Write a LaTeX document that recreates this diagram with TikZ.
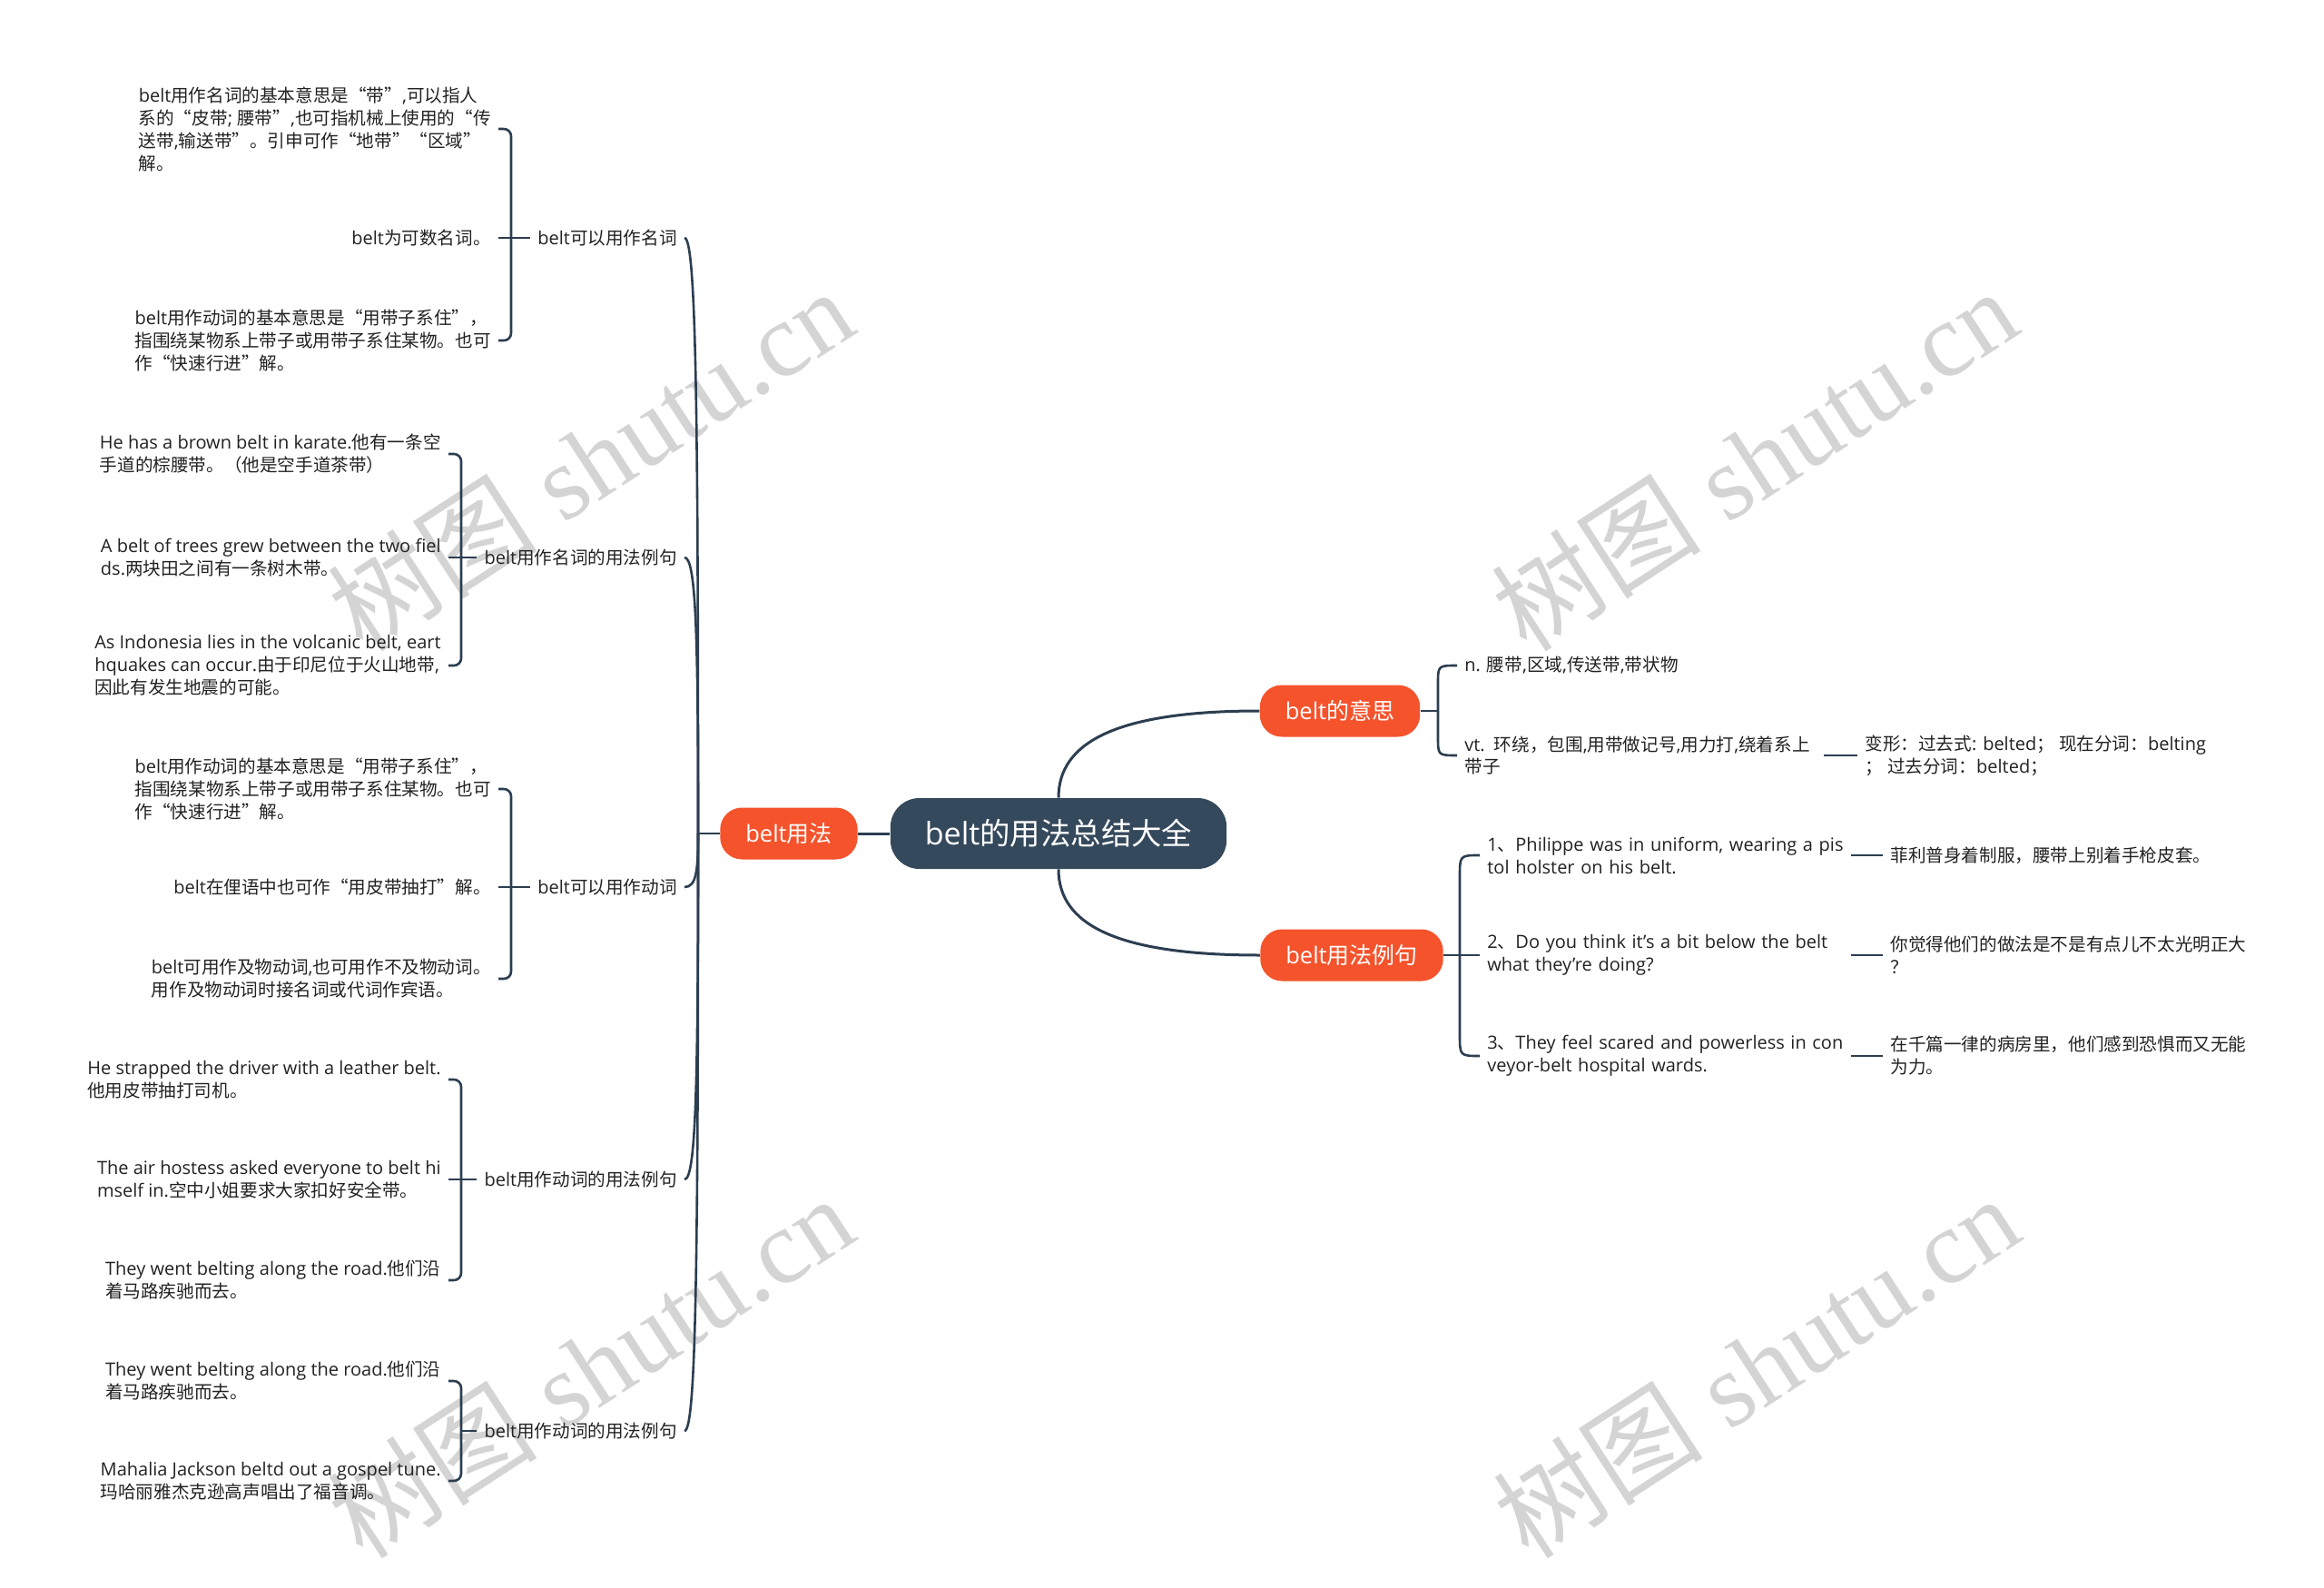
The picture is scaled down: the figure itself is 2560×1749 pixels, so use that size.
\documentclass[tikz,border=0pt]{standalone}
\usepackage{fontspec}
\setmainfont[Scale=1.02]{Open Sans}
\newfontfamily\cjkfont{Noto Sans CJK SC}
\newfontfamily\wmfont{Liberation Serif}
\usetikzlibrary{calc}
\XeTeXinterchartokenstate=1
\chardef\CJKcls=11
\newcount\cjkc
\def\setcjkrange#1#2{\cjkc=#1\relax
  \loop\XeTeXcharclass\cjkc=\CJKcls\relax
  \ifnum\cjkc<#2\relax\advance\cjkc by 1\relax\repeat}
\setcjkrange{"4E00}{"9FFF}
\setcjkrange{"3000}{"303F}
\setcjkrange{"FF00}{"FFEF}
\XeTeXcharclass"201C=\CJKcls
\XeTeXcharclass"201D=\CJKcls
\XeTeXinterchartoks 0 \CJKcls = {\cjkfont}
\XeTeXinterchartoks 4095 \CJKcls = {\cjkfont}
\XeTeXinterchartoks \CJKcls 0 = {\rmfamily}
\XeTeXinterchartoks \CJKcls 4095 = {\rmfamily}

\definecolor{lineC}{HTML}{2C3E50}
\definecolor{rootC}{HTML}{35495C}
\definecolor{orangeC}{HTML}{F5532C}
\definecolor{txtC}{HTML}{222222}
\definecolor{wmC}{HTML}{D4D4D4}
\newcommand\ml[1]{\mbox{#1}}

\tikzset{
  conn/.style={draw=lineC, line width=1.3pt},
  rootconn/.style={draw=lineC, line width=1.5pt},
  rootnode/.style={fill=rootC, text=white, rounded corners=16pt, minimum height=39pt,
    inner xsep=19pt, font=\fontsize{16.7}{20}\selectfont},
  topicnode/.style={fill=orangeC, text=white, rounded corners=12pt, minimum height=28.5pt,
    inner xsep=14pt, font=\fontsize{12.5}{15}\selectfont},
  leaf/.style={align=left, inner xsep=4pt, inner ysep=2pt, text=txtC,
    font=\fontsize{9.8}{12.5}\selectfont},
  sublabel/.style={leaf},
  wm/.style={text=wmC, font=\fontsize{58}{64}\selectfont, rotate=33},
}
\newcommand\trunkto[1]{\draw[conn] (J) .. controls ($(J)!0.7!(J|-#1.east)$) and ($(J|-#1.east)+(-2,0)$) .. (#1.east);}

\begin{document}
\begin{tikzpicture}[x=0.5pt,y=-0.5pt]
\path[use as bounding box, fill=white] (0,0) rectangle (2560,1749);

% watermarks
\node[wm] (wm1) at (650,506) {{\cjkfont 树图} {\wmfont shutu.cn}};
\node[wm] (wm2) at (1932,506) {{\cjkfont 树图} {\wmfont shutu.cn}};
\node[wm] (wm3) at (650,1505) {{\cjkfont 树图} {\wmfont shutu.cn}};
\node[wm] (wm4) at (1934,1505) {{\cjkfont 树图} {\wmfont shutu.cn}};

% main nodes
\node[rootnode] (root) at (1166,918) {belt的用法总结大全};
\node[topicnode] (yf) at (869,918) {belt用法};
\node[topicnode] (ys) at (1476,783) {belt的意思};
\node[topicnode] (yl) at (1489,1052) {belt用法例句};

\coordinate (J) at (769,918);
\coordinate (br1) at (563,262);
\coordinate (br2) at (508,614);
\coordinate (br3) at (563,977);
\coordinate (br4) at (508,1299);
\coordinate (br5) at (508,1576);
\coordinate (bm) at (1584,783);
\coordinate (bl) at (1608,1052);

% branch labels
\node[sublabel, anchor=east] (lab1) at (754,262) {belt可以用作名词};
\node[sublabel, anchor=east] (lab2) at (754,614) {belt用作名词的用法例句};
\node[sublabel, anchor=east] (lab3) at (754,977) {belt可以用作动词};
\node[sublabel, anchor=east] (lab4) at (754,1299) {belt用作动词的用法例句};
\node[sublabel, anchor=east] (lab5) at (754,1576) {belt用作动词的用法例句};

% group 1
\node[leaf, anchor=east] (g1a) at (549,142) {belt用作名词的基本意思是“带”,可以指人\\系的“皮带; 腰带”,也可指机械上使用的“传\\送带,输送带”。引申可作“地带”“区域”\\解。};
\node[leaf, anchor=east] (g1b) at (549,262) {belt为可数名词。};
\node[leaf, anchor=east] (g1c) at (549,375) {belt用作动词的基本意思是“用带子系住”，\\指围绕某物系上带子或用带子系住某物。也可\\作“快速行进”解。};

% group 2
\node[leaf, anchor=east] (g2a) at (494,500) {He has a brown belt in karate.他有一条空\\手道的棕腰带。（他是空手道茶带）};
\node[leaf, anchor=east] (g2b) at (494,614) {A belt of trees grew between the two fiel\\ds.两块田之间有一条树木带。};
\node[leaf, anchor=east] (g2c) at (494,733) {As Indonesia lies in the volcanic belt, eart\\hquakes can occur.由于印尼位于火山地带,\\因此有发生地震的可能。};

% group 3
\node[leaf, anchor=east] (g3a) at (549,869) {belt用作动词的基本意思是“用带子系住”，\\指围绕某物系上带子或用带子系住某物。也可\\作“快速行进”解。};
\node[leaf, anchor=east] (g3b) at (549,977) {belt在俚语中也可作“用皮带抽打”解。};
\node[leaf, anchor=east] (g3c) at (549,1078) {belt可用作及物动词,也可用作不及物动词。\\用作及物动词时接名词或代词作宾语。};

% group 4
\node[leaf, anchor=east] (g4a) at (494,1189) {He strapped the driver with a leather belt.\\他用皮带抽打司机。};
\node[leaf, anchor=east] (g4b) at (494,1299) {The air hostess asked everyone to belt hi\\mself in.空中小姐要求大家扣好安全带。};
\node[leaf, anchor=east] (g4c) at (494,1410) {They went belting along the road.他们沿\\着马路疾驰而去。};

% group 5
\node[leaf, anchor=east] (g5a) at (494,1521) {They went belting along the road.他们沿\\着马路疾驰而去。};
\node[leaf, anchor=east] (g5b) at (494,1631) {Mahalia Jackson beltd out a gospel tune.\\玛哈丽雅杰克逊高声唱出了福音调。};

% right: meaning
\node[leaf, anchor=west] (m1) at (1605,733) {n. 腰带,区域,传送带,带状物};
\node[leaf, anchor=west, text width=193.5pt] (m2) at (1605,832) {\ml{vt. 环绕，包围,用带做记号,用力打,绕着系上}\\\ml{带子}};
\node[leaf, anchor=west] (m3) at (2046,832) {变形：过去式: belted；  现在分词：belting\\；  过去分词：belted；};

% right: examples
\node[leaf, anchor=west, text width=196pt] (e1) at (1630,942) {\ml{1、Philippe was in uniform, wearing a pis}\\\ml{tol holster on his belt.}};
\node[leaf, anchor=west, text width=196pt] (e2) at (1630,1052) {\ml{2、Do you think it's a bit below the belt}\\\ml{what they're doing?}};
\node[leaf, anchor=west, text width=196pt] (e3) at (1630,1163) {\ml{3、They feel scared and powerless in con}\\\ml{veyor-belt hospital wards.}};
\node[leaf, anchor=west] (t1) at (2074,942) {菲利普身着制服，腰带上别着手枪皮套。};
\node[leaf, anchor=west] (t2) at (2074,1052) {你觉得他们的做法是不是有点儿不太光明正大\\？};
\node[leaf, anchor=west] (t3) at (2074,1163) {在千篇一律的病房里，他们感到恐惧而又无能\\为力。};

% root connectors
\draw[rootconn] (root.west) -- (yf.east);
\draw[rootconn] (root.north) .. controls +(0,-60) and +(-160,0) .. (ys.west);
\draw[rootconn] (root.south) .. controls +(0,60) and +(-160,0) .. (yl.west);

% left trunk
\draw[conn] (yf.west) -- (J);
\trunkto{lab1}
\trunkto{lab2}
\trunkto{lab3}
\trunkto{lab4}
\trunkto{lab5}

% left brackets
\draw[conn, rounded corners=4pt] (g1a.east) -- (g1a.east -| br1) -- (g1c.east -| br1) -- (g1c.east);
\draw[conn] (g1b.east) -- (lab1.west);
\draw[conn, rounded corners=4pt] (g2a.east) -- (g2a.east -| br2) -- (g2c.east -| br2) -- (g2c.east);
\draw[conn] (g2b.east) -- (lab2.west);
\draw[conn, rounded corners=4pt] (g3a.east) -- (g3a.east -| br3) -- (g3c.east -| br3) -- (g3c.east);
\draw[conn] (g3b.east) -- (lab3.west);
\draw[conn, rounded corners=4pt] (g4a.east) -- (g4a.east -| br4) -- (g4c.east -| br4) -- (g4c.east);
\draw[conn] (g4b.east) -- (lab4.west);
\draw[conn, rounded corners=4pt] (g5a.east) -- (g5a.east -| br5) -- (g5b.east -| br5) -- (g5b.east);
\draw[conn] (lab5.west) -- (br5);

% right brackets
\draw[conn] (ys.east) -- (bm);
\draw[conn] (m1.west) .. controls (bm |- m1.west) and (bm |- m1.west) .. ($(bm |- m1.west)+(0,20)$)
  -- ($(bm |- m2.west)+(0,-20)$) .. controls (bm |- m2.west) and (bm |- m2.west) .. (m2.west);
\draw[conn] (m2.east) -- (m3.west);

\draw[conn] (yl.east) -- (e2.west);
\draw[conn] (e1.west) .. controls (bl |- e1.west) and (bl |- e1.west) .. ($(bl |- e1.west)+(0,24)$)
  -- ($(bl |- e3.west)+(0,-24)$) .. controls (bl |- e3.west) and (bl |- e3.west) .. (e3.west);
\draw[conn] (e1.east) -- (t1.west);
\draw[conn] (e2.east) -- (t2.west);
\draw[conn] (e3.east) -- (t3.west);
\end{tikzpicture}
\end{document}
